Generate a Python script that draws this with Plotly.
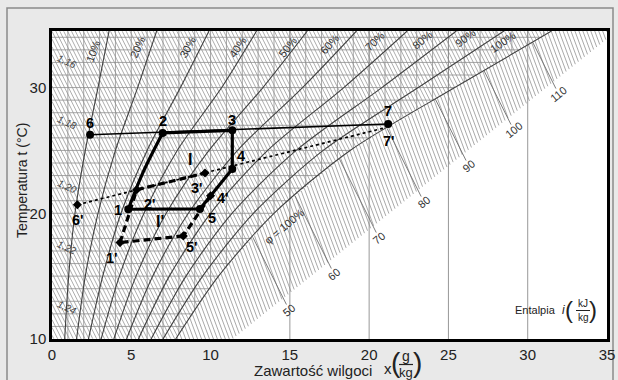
import numpy as np
import plotly.graph_objects as go

# ---------------- data ----------------
x_tick_vals = [0, 5, 10, 15, 20, 25, 30, 35]
t_tick_vals = [10, 20, 30]

# relative-humidity curves: moisture content x (g/kg) read at these temperatures
rh_temps = [10, 15, 20, 25, 30, 34.5]
rh_10 = [0.8, 1.05, 1.45, 2.1, 2.9, 3.6]
rh_20 = [1.55, 2.1, 2.9, 4.0, 5.4, 6.6]
rh_30 = [2.3, 3.2, 4.35, 6.0, 8.1, 9.9]
rh_40 = [3.1, 4.25, 5.8, 7.9, 10.7, 12.9]
rh_50 = [3.9, 5.3, 7.2, 9.9, 13.3, 16.1]
rh_60 = [4.7, 6.35, 8.6, 11.7, 15.8, 19.2]
rh_70 = [5.45, 7.4, 10.0, 13.6, 18.4, 22.4]
rh_80 = [6.25, 8.45, 11.35, 15.4, 20.8, 25.5]
rh_90 = [7.0, 9.5, 12.7, 17.1, 23.1, 28.5]
rh_100 = [7.8, 10.5, 14.0, 18.8, 25.4, 31.5]
rh_labels = ["10%", "20%", "30%", "40%", "50%", "60%", "70%", "80%", "90%", "100%"]

density_labels = ["1,16", "1,18", "1,20", "1,22", "1,24"]
density_temps = [32.1, 27.2, 22.1, 17.3, 12.5]

enthalpy_values = [50, 60, 70, 80, 90, 100, 110]

# process states
main_names = ["1", "2", "3", "4", "5", "6", "7"]
main_x = [4.81, 6.98, 11.37, 11.37, 9.33, 2.40, 21.2]
main_t = [20.32, 26.39, 26.6, 23.52, 20.35, 26.25, 27.1]
prime_names = ["1'", "2'", "3'", "4'", "5'", "6'", "7'"]
prime_x = [4.29, 5.34, 9.65, 10.0, 8.28, 1.6, 21.0]
prime_t = [17.67, 21.87, 23.2, 21.4, 18.2, 20.68, 26.8]
mid12_x, mid12_t = 5.72, 23.2   # bend of the 1-2 process line

# ---------------- chart geometry ----------------
X_MAX, T_MIN, T_MAX = 35.0, 10.0, 34.5
H_SLOPE = 2.52      # temperature drop per g/kg along constant enthalpy
F_SLOPE = 3.4       # fog isotherm slope
B_SLOPE, B_X0 = 1.011, 11.38  # outer edge of fog hatching

sat_t = np.array(rh_temps, float)
sat_x = np.array(rh_100, float)
def t_sat(x):
    return np.interp(x, sat_x, sat_t)
def x_sat(t):
    return np.interp(t, sat_t, sat_x)

xs = np.linspace(0, X_MAX, 3501)
tsx = t_sat(xs)

fig = go.Figure()

# enthalpy hatching in unsaturated zone
hx, hy = [], []
for h in np.arange(T_MIN + 0.3, 116, 0.62):
    tl = h - H_SLOPE * xs
    ok = (tl <= T_MAX) & (tl >= T_MIN) & (tl >= tsx)
    idx = np.where(ok)[0]
    if len(idx) < 2:
        continue
    i0, i1 = idx[0], idx[-1]
    hx += [xs[i0], xs[i1], None]
    hy += [tl[i0], tl[i1], None]
fig.add_trace(go.Scatter(x=hx, y=hy, mode="lines", line=dict(color="#9e9e9e", width=0.85),
                         hoverinfo="skip", showlegend=False))

# grid (isotherms every 1 C, x every 1 g/kg) in unsaturated zone
gx, gy = [], []
for t in range(11, 35):
    gx += [0, float(x_sat(t)), None]
    gy += [t, t, None]
for xv in range(1, 35):
    ts = max(T_MIN, float(t_sat(xv)))
    if ts < T_MAX - 0.01:
        gx += [xv, xv, None]
        gy += [ts, T_MAX, None]
fig.add_trace(go.Scatter(x=gx, y=gy, mode="lines", line=dict(color="#8e8e8e", width=0.8),
                         hoverinfo="skip", showlegend=False))

# fog zone hatching
m = (xs >= sat_x[0]) & (xs <= sat_x[-1])
fx = xs[m]
fg = t_sat(fx) + F_SLOPE * fx
ox, oy = [], []
for k in np.arange(fg[0] + 0.45, T_MAX + F_SLOPE * X_MAX, 0.85):
    if k <= fg[-1]:
        x_s = float(np.interp(k, fg, fx))
        t_s = k - F_SLOPE * x_s
    else:
        x_s = (k - T_MAX) / F_SLOPE
        t_s = T_MAX
    x_b = (k - T_MIN + B_SLOPE * B_X0) / (F_SLOPE + B_SLOPE)
    x_bot = (k - T_MIN) / F_SLOPE
    x_e = min(x_b, x_bot, X_MAX)
    if x_e <= x_s:
        continue
    ox += [x_s, x_e, None]
    oy += [t_s, k - F_SLOPE * x_e, None]
fig.add_trace(go.Scatter(x=ox, y=oy, mode="lines", line=dict(color="#9a9a9a", width=0.85),
                         hoverinfo="skip", showlegend=False))

# vertical lines every 5 g/kg in outer zone
vx, vy = [], []
for xv in [15, 20, 25, 30]:
    vx += [xv, xv, None]
    vy += [T_MIN, T_MAX, None]
fig.add_trace(go.Scatter(x=vx, y=vy, mode="lines", line=dict(color="#8c8c8c", width=0.9),
                         hoverinfo="skip", showlegend=False))

# enthalpy scale lines through fog zone
fe = t_sat(fx) + H_SLOPE * fx
ex, ey = [], []
ann = []
for h in enthalpy_values:
    x_s = float(np.interp(h, fe, fx))
    x_e = (h - T_MIN + 0.7 + B_SLOPE * B_X0) / (H_SLOPE + B_SLOPE)
    ex += [x_s, x_e, None]
    ey += [h - H_SLOPE * x_s, h - H_SLOPE * x_e, None]
    xl = (h - T_MIN + 1.35 + B_SLOPE * B_X0) / (H_SLOPE + B_SLOPE)
    ann.append(dict(x=xl, y=h - H_SLOPE * xl, text=str(h), showarrow=False, textangle=-39,
                    font=dict(size=11, color="#333")))
fig.add_trace(go.Scatter(x=ex, y=ey, mode="lines", line=dict(color="#6e6e6e", width=0.9),
                         hoverinfo="skip", showlegend=False))

# relative humidity curves
for xv in [rh_10, rh_20, rh_30, rh_40, rh_50, rh_60, rh_70, rh_80, rh_90, rh_100]:
    fig.add_trace(go.Scatter(x=xv, y=rh_temps, mode="lines",
                             line=dict(color="#404040", width=1.1, shape="spline", smoothing=0.8),
                             hoverinfo="skip", showlegend=False))

P = dict(zip(main_names, zip(main_x, main_t)))
Q = dict(zip(prime_names, zip(prime_x, prime_t)))

def seg(pts, **line):
    fig.add_trace(go.Scatter(x=[p[0] for p in pts], y=[p[1] for p in pts], mode="lines",
                             line=line, hoverinfo="skip", showlegend=False))

# mixing lines
seg([P["6"], P["7"]], color="black", width=1.6)
seg([Q["6'"], Q["7'"]], color="black", width=1.7, dash="3px,3px")
# cycle I
seg([P["1"], (mid12_x, mid12_t), P["2"]], color="black", width=3.2, shape="spline")
seg([P["2"], P["3"], P["4"], P["5"], P["1"]], color="black", width=3.2)
# cycle I'
for a, b in [("1'", "2'"), ("2'", "3'"), ("4'", "5'"), ("5'", "1'")]:
    seg([Q[a], Q[b]], color="black", width=3.2, dash="7px,4px")

fig.add_trace(go.Scatter(x=main_x, y=main_t, mode="markers",
                         marker=dict(symbol="circle", size=8, color="black"),
                         hoverinfo="skip", showlegend=False))
fig.add_trace(go.Scatter(x=prime_x[:6], y=prime_t[:6], mode="markers",
                         marker=dict(symbol="diamond", size=7, color="black"),
                         hoverinfo="skip", showlegend=False))

# point labels
label_pos = {"6": (2.40, 27.21), "2": (6.98, 27.31), "3": (11.33, 27.45), "7": (21.2, 28.1),
             "7'": (21.27, 25.72), "4": (11.92, 24.58), "1": (4.18, 20.28), "5": (10.07, 19.64),
             "2'": (6.18, 20.76), "3'": (9.12, 22.0), "4'": (10.78, 21.24), "1'": (3.78, 16.45),
             "5'": (8.81, 17.35), "6'": (1.64, 19.48)}
for name, (lx, ly) in label_pos.items():
    ann.append(dict(x=lx, y=ly, text="<b>%s</b>" % name, showarrow=False,
                    font=dict(size=14.5, color="black")))
ann.append(dict(x=8.70, y=24.26, text="<b>I</b>", showarrow=False, font=dict(size=16, color="black")))
ann.append(dict(x=6.81, y=19.35, text="<b>I'</b>", showarrow=False, font=dict(size=16, color="black")))

# RH labels
rh_lab_pos = [(2.6, 32.9, -70), (5.42, 33.2, -66), (8.58, 33.2, -61), (11.73, 33.2, -56),
              (14.88, 33.2, -52), (17.53, 33.43, -48), (20.37, 33.67, -44), (23.33, 33.82, -40),
              (26.04, 33.98, -37), (28.44, 33.59, -34)]
for lab, (lx, ly, ang) in zip(rh_labels, rh_lab_pos):
    ann.append(dict(x=lx, y=ly, text=lab, showarrow=False, textangle=ang,
                    font=dict(size=11, color="#333")))
ann.append(dict(x=14.66, y=19.0, text="φ = 100%", showarrow=False, textangle=-40,
                font=dict(size=11, color="#333")))

# density labels
for lab, ty in zip(density_labels, density_temps):
    ann.append(dict(x=0.95, y=ty, text="<i>%s</i>" % lab, showarrow=False, textangle=25,
                    font=dict(size=10, color="#444")))

# helper to place text by paper pixel position
W0, H0, PW, PH = 52, 339, 555, 308
def pp(px, py, text, size, angle=0, color="#222", **kw):
    ann.append(dict(xref="paper", yref="paper", x=(px - W0) / PW, y=(H0 - py) / PH,
                    text=text, showarrow=False, textangle=angle,
                    font=dict(size=size, color=color), xanchor="center", yanchor="middle", **kw))

# enthalpy caption
pp(535, 310, "Entalpia", 11)
pp(563, 310, "<i>i</i>", 12)
pp(569, 309, "(", 24)
pp(583, 303, "kJ", 10)
pp(583, 317, "kg", 10)
pp(593, 309, ")", 24)
# x axis title
pp(313, 370, "Zawartość wilgoci", 15)
pp(388, 368, "x", 15)
pp(396, 362, "(", 28)
pp(406, 356, "g", 14)
pp(406, 372, "kg", 13)
pp(417, 362, ")", 28)
# y axis title
pp(22, 181, "Temperatura t (°C)", 14, angle=-90)

shapes = [
    # fraction bars
    dict(type="line", xref="paper", yref="paper", x0=(576 - W0) / PW, x1=(590 - W0) / PW,
         y0=(H0 - 310.5) / PH, y1=(H0 - 310.5) / PH, line=dict(color="#222", width=1)),
    dict(type="line", xref="paper", yref="paper", x0=(399 - W0) / PW, x1=(413 - W0) / PW,
         y0=(H0 - 364.5) / PH, y1=(H0 - 364.5) / PH, line=dict(color="#222", width=1.2)),
    # outer frame
    dict(type="rect", xref="paper", yref="paper", x0=(7 - W0) / PW, x1=(613 - W0) / PW,
         y0=(H0 - 395) / PH, y1=(H0 - 8) / PH, line=dict(color="#8a8a8a", width=1.5),
         fillcolor="rgba(0,0,0,0)", layer="below"),
]

fig.update_layout(
    width=618, height=380,
    margin=dict(l=52, r=11, t=31, b=41),
    paper_bgcolor="#e9e9e9", plot_bgcolor="white",
    font=dict(family="Liberation Sans, Arial, sans-serif", color="#222"),
    showlegend=False,
    annotations=ann, shapes=shapes,
    xaxis=dict(range=[0, X_MAX], tickvals=x_tick_vals, showgrid=False, zeroline=False,
               showline=True, linecolor="black", linewidth=2.5, mirror=True,
               ticks="", tickfont=dict(size=15, color="#222"), automargin=False),
    yaxis=dict(range=[T_MIN, T_MAX], tickvals=t_tick_vals, showgrid=False, zeroline=False,
               showline=True, linecolor="black", linewidth=2.5, mirror=True,
               ticks="", tickfont=dict(size=15, color="#222"), automargin=False),
)

fig.write_html("out.html", config={"displayModeBar": False},
               post_script="document.body.style.margin='0px';document.body.style.padding='0px';"
                           "document.body.style.overflow='hidden';")
